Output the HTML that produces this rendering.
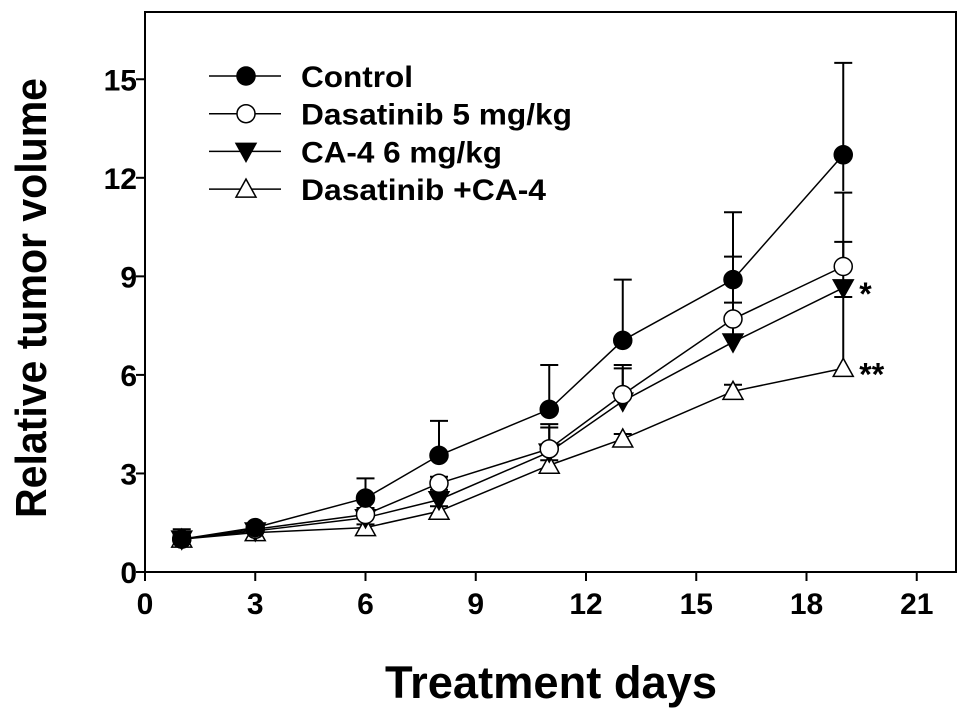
<!DOCTYPE html>
<html><head><meta charset="utf-8"><style>
html,body{margin:0;padding:0;background:#fff;}
svg{display:block;font-family:"Liberation Sans",Arial,sans-serif;font-weight:bold;}
</style></head><body>
<svg id="chart" width="969" height="718" viewBox="0 0 969 718">
<rect x="145" y="12" width="811" height="560" fill="none" stroke="#000" stroke-width="2"/>
<g id="axes"></g>
<g id="series"></g>
<g id="legend"></g>
<text x="46" y="298" font-size="44" text-anchor="middle" textLength="440" lengthAdjust="spacingAndGlyphs" transform="rotate(-90 46 298)">Relative tumor volume</text>
<text x="551" y="698" font-size="45" text-anchor="middle" textLength="332" lengthAdjust="spacingAndGlyphs">Treatment days</text>
</svg>
<script>
const days = [1,3,6,8,11,13,16,19];
const xTicks = [0,3,6,9,12,15,18,21];
const yTicks = [0,3,6,9,12,15];
const controlVals = [1.0,1.35,2.25,3.55,4.95,7.05,8.9,12.7];
const controlErrUp = [1.3,1.45,2.85,4.6,6.3,8.9,10.95,15.5];
const controlErrDn = [1.0,1.35,2.25,3.55,4.95,7.05,8.9,11.6];
const dasVals = [1.0,1.3,1.75,2.7,3.75,5.4,7.7,9.3];
const dasErrUp = [1.2,1.4,1.95,2.9,4.4,6.3,9.6,10.05];
const caVals = [1.0,1.25,1.65,2.2,3.65,5.2,7.0,8.65];
const caErrUp = [1.15,1.35,1.8,2.5,4.5,6.2,8.2,11.55];
const comboVals = [1.0,1.2,1.35,1.85,3.25,4.05,5.5,6.2];
const comboErrUp = [1.1,1.3,1.45,2.0,3.4,4.2,5.7,8.37];
const seriesNames = ["Control","Dasatinib 5 mg/kg","CA-4 6 mg/kg","Dasatinib +CA-4"];
const NS="http://www.w3.org/2000/svg";
const X0=145,XS=36.75,Y0=572,YS=32.85;
const xs=d=>X0+d*XS, ys=v=>Y0-v*YS;
function mk(tag,attrs,parent){const e=document.createElementNS(NS,tag);for(const k in attrs)e.setAttribute(k,attrs[k]);parent.appendChild(e);return e;}
const axes=document.getElementById('axes');
xTicks.forEach(t=>{
  const l=mk('line',{x1:xs(t),x2:xs(t),y1:Y0,y2:Y0+9,stroke:'#000','stroke-width':2},axes);
  
  
  const tx=mk('text',{x:xs(t),y:Y0+42,'font-size':30,'text-anchor':'middle'},axes);
  tx.textContent=t;
  
  
});
yTicks.forEach(t=>{
  const l=mk('line',{x1:X0-9,x2:X0,y1:ys(t),y2:ys(t),stroke:'#000','stroke-width':2},axes);
  
  
  const tx=mk('text',{x:X0-8,y:ys(t)+11,'font-size':30,'text-anchor':'end'},axes);
  tx.textContent=t;
  
  
});
function marker(type,cx,cy,parent){
  let e;
  if(type==='fc'||type==='oc'){e=mk('circle',{cx:cx,cy:cy,r:9,fill:type==='fc'?'#000':'#fff',stroke:'#000','stroke-width':1.5},parent);}
  else if(type==='dt'){e=mk('polygon',{points:`${cx-10},${cy-8} ${cx+10},${cy-8} ${cx},${cy+10}`,fill:'#000',stroke:'#000','stroke-width':1.5},parent);}
  else {e=mk('polygon',{points:`${cx-10},${cy+8} ${cx+10},${cy+8} ${cx},${cy-10}`,fill:'#fff',stroke:'#000','stroke-width':1.5},parent);}
  return e;
}
const sg=document.getElementById('series');
const defs=[
 {vals:comboVals,up:comboErrUp,dn:null,m:'ut',name:'series-combo'},
 {vals:caVals,up:caErrUp,dn:null,m:'dt',name:'series-ca4'},
 {vals:dasVals,up:dasErrUp,dn:null,m:'oc',name:'series-dasatinib'},
 {vals:controlVals,up:controlErrUp,dn:controlErrDn,m:'fc',name:'series-control'}];
defs.forEach(s=>{
  s.vals.forEach((v,i)=>{
    const x=xs(days[i]);
    const e=mk('line',{x1:x,x2:x,y1:ys(v),y2:ys(s.up[i]),stroke:'#000','stroke-width':2},sg);
    
    
    const c=mk('line',{x1:x-9,x2:x+9,y1:ys(s.up[i]),y2:ys(s.up[i]),stroke:'#000','stroke-width':2},sg);
    
    
    if(s.dn){const d=mk('line',{x1:x,x2:x,y1:ys(v),y2:ys(s.dn[i]),stroke:'#000','stroke-width':2},sg);
      
      }
  });
});
defs.forEach(s=>{
  const p=mk('polyline',{points:s.vals.map((v,i)=>xs(days[i])+','+ys(v)).join(' '),fill:'none',stroke:'#000','stroke-width':1.5},sg);
  
  
});
defs.forEach(s=>{
  s.vals.forEach((v,i)=>{
    const m=marker(s.m,xs(days[i]),ys(v),sg);
    
    
  });
});
const st1=mk('text',{x:xs(19)+16,y:ys(caVals[7])+17,'font-size':32},sg);st1.textContent='*';


const st2=mk('text',{x:xs(19)+16,y:ys(comboVals[7])+17,'font-size':32},sg);st2.textContent='**';


const lg=document.getElementById('legend');
const lm=['fc','oc','dt','ut'];
const lw=[112,271,201,245];
seriesNames.forEach((n,i)=>{
  const y=76+i*37.7;
  const l=mk('line',{x1:209,x2:281,y1:y,y2:y,stroke:'#000','stroke-width':1.5},lg);
  
  
  const m=marker(lm[i],246,y,lg);
  
  
  const t=mk('text',{x:301,y:y+11,'font-size':30,textLength:lw[i],lengthAdjust:'spacingAndGlyphs'},lg);
  t.textContent=n;
  
  
});
</script>
</body></html>
